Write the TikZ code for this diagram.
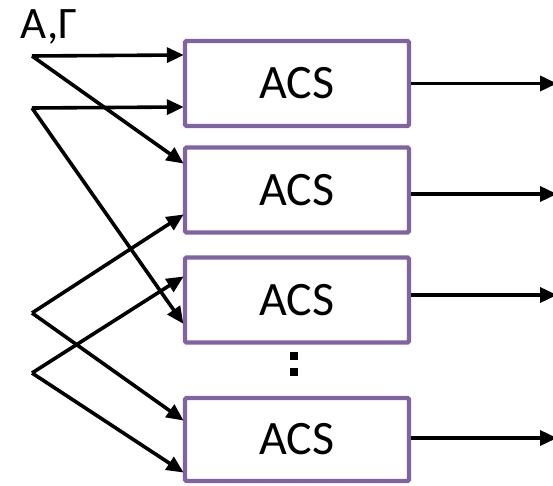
\documentclass[tikz,border=0pt]{standalone}
\usepackage{fontspec}
\setmainfont{Carlito}
\usetikzlibrary{arrows.meta}
\definecolor{acspurple}{HTML}{8064A2}
\begin{document}
\begin{tikzpicture}[x=1pt,y=-1pt,
  acsbox/.style={draw=acspurple, line width=4.4pt, rounded corners=1.5pt, fill=white,
    minimum width=224pt, minimum height=85pt, inner sep=0pt,
    font=\fontsize{48}{52}\selectfont},
  conn/.style={line width=3.6pt, -{Triangle[length=17pt,width=15pt]}, shorten >=-1pt},
  dotsq/.style={fill=black, minimum size=7.5pt, inner sep=0pt}]
\useasboundingbox (0,0) rectangle (553,486);
\node[acsbox] (b1) at (297,83.5) {ACS};
\node[acsbox] (b2) at (297,190) {ACS};
\node[acsbox] (b3) at (297,300) {ACS};
\node[acsbox, minimum height=83pt] (b4) at (297,439.5) {ACS};
\node[font=\fontsize{45}{49}\selectfont, inner sep=0pt] (lab) at (49,27) {A,Γ};
\node[dotsq] (d1) at (294,356) {};
\node[dotsq] (d2) at (294,372) {};
\coordinate (s1) at (32,56);
\coordinate (s2) at (32,108);
\coordinate (s3) at (32,313);
\coordinate (s4) at (32,373);
\coordinate (o1) at (556,83.5);
\coordinate (o2) at (556,194);
\coordinate (o3) at (556,295);
\coordinate (o4) at (556,438);
\draw[conn] (s1) -- (b1.west |- 0,55);
\draw[conn] (s1) -- (b2.west |- 0,163);
\draw[conn] (s2) -- (b1.west |- 0,107);
\draw[conn] (s2) -- (b3.west |- 0,323);
\draw[conn] (s3) -- (b2.west |- 0,215);
\draw[conn] (s3) -- (b4.west |- 0,420);
\draw[conn] (s4) -- (b3.west |- 0,277);
\draw[conn] (s4) -- (b4.west |- 0,472);
\draw[conn] (b1.east) -- (o1);
\draw[conn] (b2.east |- o2) -- (o2);
\draw[conn] (b3.east |- o3) -- (o3);
\draw[conn] (b4.east |- o4) -- (o4);
\end{tikzpicture}
\end{document}
